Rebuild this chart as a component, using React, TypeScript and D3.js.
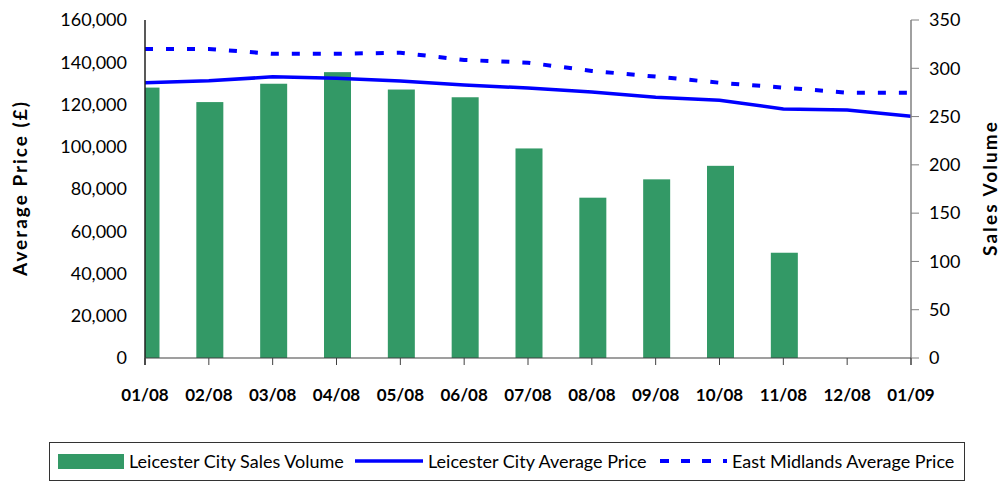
import React, { useEffect, useRef } from "react";
import * as d3 from "d3";

const months = ["01/08", "02/08", "03/08", "04/08", "05/08", "06/08", "07/08", "08/08", "09/08", "10/08", "11/08", "12/08", "01/09"];
const salesVolume: (number | null)[] = [280, 265, 284, 296, 278, 270, 217, 166, 185, 199, 109, null, null];
const leicesterPrice = [130300, 131200, 133100, 132400, 131100, 129200, 127800, 125900, 123400, 122000, 117900, 117400, 114400];
const eastMidlandsPrice = [146300, 146300, 144000, 144000, 144500, 141100, 139800, 135900, 133200, 130300, 128000, 125600, 125600];
const priceTicks = [0, 20000, 40000, 60000, 80000, 100000, 120000, 140000, 160000];
const volumeTicks = [0, 50, 100, 150, 200, 250, 300, 350];

const W = 1002, H = 482;
const L = 145, R = 911, T = 20, B = 358;
const FONT = "Lato, 'Open Sans', sans-serif";

export default function App() {
  const ref = useRef<SVGSVGElement>(null);
  useEffect(() => {
    document.body.style.margin = "0";
    const svg = d3.select(ref.current!);
    svg.selectAll("*").remove();

    const x = d3.scalePoint<string>().domain(months).range([L, R]);
    const yP = d3.scaleLinear().domain([0, 160000]).range([B, T]);
    const yV = d3.scaleLinear().domain([0, 350]).range([B, T]);

    svg.append("defs").append("clipPath").attr("id", "plotclip")
      .append("rect").attr("x", L).attr("y", T - 5).attr("width", R - L).attr("height", B - T + 5);

    // bars
    const bw = 27;
    svg.append("g").attr("clip-path", "url(#plotclip)")
      .selectAll("rect").data(months.map((m, i) => ({ m, v: salesVolume[i] })).filter(d => d.v != null))
      .enter().append("rect")
      .attr("x", d => x(d.m)! - bw / 2 + 1)
      .attr("width", bw)
      .attr("y", d => yV(d.v as number))
      .attr("height", d => B - yV(d.v as number))
      .attr("fill", "#339966");

    // lines
    const line = d3.line<number>().x((_, i) => x(months[i])!).y(d => yP(d));
    svg.append("path").attr("d", line(eastMidlandsPrice)!)
      .attr("fill", "none").attr("stroke", "#0000FF").attr("stroke-width", 4)
      .attr("stroke-dasharray", "8,13");
    svg.append("path").attr("d", line(leicesterPrice)!)
      .attr("fill", "none").attr("stroke", "#0000FF").attr("stroke-width", 3.5);

    // left axis
    svg.append("line").attr("x1", L).attr("x2", L).attr("y1", T).attr("y2", B + 7)
      .attr("stroke", "#222").attr("stroke-width", 1.5);
    svg.append("g").selectAll("text").data(priceTicks).enter().append("text")
      .attr("x", 127).attr("y", d => yP(d)).attr("dy", "0.35em")
      .attr("text-anchor", "end").attr("font-family", FONT).attr("font-size", 18)
      .attr("fill", "#000").text(d => d3.format(",")(d));

    // right axis
    svg.append("line").attr("x1", R).attr("x2", R).attr("y1", T).attr("y2", B + 7)
      .attr("stroke", "#808080").attr("stroke-width", 1.5);
    const rg = svg.append("g");
    rg.selectAll("line").data(volumeTicks).enter().append("line")
      .attr("x1", R).attr("x2", R + 8).attr("y1", d => yV(d)).attr("y2", d => yV(d))
      .attr("stroke", "#808080").attr("stroke-width", 1);
    rg.selectAll("text").data(volumeTicks).enter().append("text")
      .attr("x", 929).attr("y", d => yV(d)).attr("dy", "0.35em")
      .attr("text-anchor", "start").attr("font-family", FONT).attr("font-size", 18)
      .attr("fill", "#000").text(d => String(d));

    // x axis
    svg.append("line").attr("x1", L).attr("x2", R).attr("y1", B).attr("y2", B)
      .attr("stroke", "#404040").attr("stroke-width", 1.2);
    const xg = svg.append("g");
    xg.selectAll("line").data(months).enter().append("line")
      .attr("x1", d => x(d)!).attr("x2", d => x(d)!).attr("y1", B).attr("y2", B + 7)
      .attr("stroke", "#404040").attr("stroke-width", 1);
    xg.selectAll("text").data(months).enter().append("text")
      .attr("x", d => x(d)!).attr("y", 401)
      .attr("text-anchor", "middle").attr("font-family", FONT).attr("font-size", 17)
      .attr("font-weight", "bold").attr("fill", "#000").text(d => d);

    // axis titles
    svg.append("text").attr("transform", `translate(27,${(T + B) / 2}) rotate(-90)`)
      .attr("text-anchor", "middle").attr("font-family", FONT).attr("font-size", 19)
      .attr("font-weight", "bold").attr("textLength", 174).attr("lengthAdjust", "spacing")
      .text("Average Price (£)");
    svg.append("text").attr("transform", `translate(997,${(T + B) / 2}) rotate(-90)`)
      .attr("text-anchor", "middle").attr("font-family", FONT).attr("font-size", 19)
      .attr("font-weight", "bold").attr("textLength", 134).attr("lengthAdjust", "spacing")
      .text("Sales Volume");

    // legend
    const lg = svg.append("g");
    lg.append("rect").attr("x", 49.5).attr("y", 442.5).attr("width", 915).attr("height", 38)
      .attr("fill", "#fff").attr("stroke", "#333").attr("stroke-width", 1);
    lg.append("rect").attr("x", 58).attr("y", 454).attr("width", 66).attr("height", 15).attr("fill", "#339966");
    lg.append("text").attr("x", 129).attr("y", 468).attr("font-family", FONT).attr("font-size", 18).text("Leicester City Sales Volume");
    lg.append("line").attr("x1", 355).attr("x2", 423).attr("y1", 461).attr("y2", 461)
      .attr("stroke", "#0000FF").attr("stroke-width", 3.5);
    lg.append("text").attr("x", 428).attr("y", 468).attr("font-family", FONT).attr("font-size", 18).text("Leicester City Average Price");
    lg.append("line").attr("x1", 660).attr("x2", 727).attr("y1", 461).attr("y2", 461)
      .attr("stroke", "#0000FF").attr("stroke-width", 4).attr("stroke-dasharray", "9,12");
    lg.append("text").attr("x", 732).attr("y", 468).attr("font-family", FONT).attr("font-size", 18).text("East Midlands Average Price");
  }, []);
  return <svg ref={ref} width={W} height={H} style={{ display: "block" }} />;
}
